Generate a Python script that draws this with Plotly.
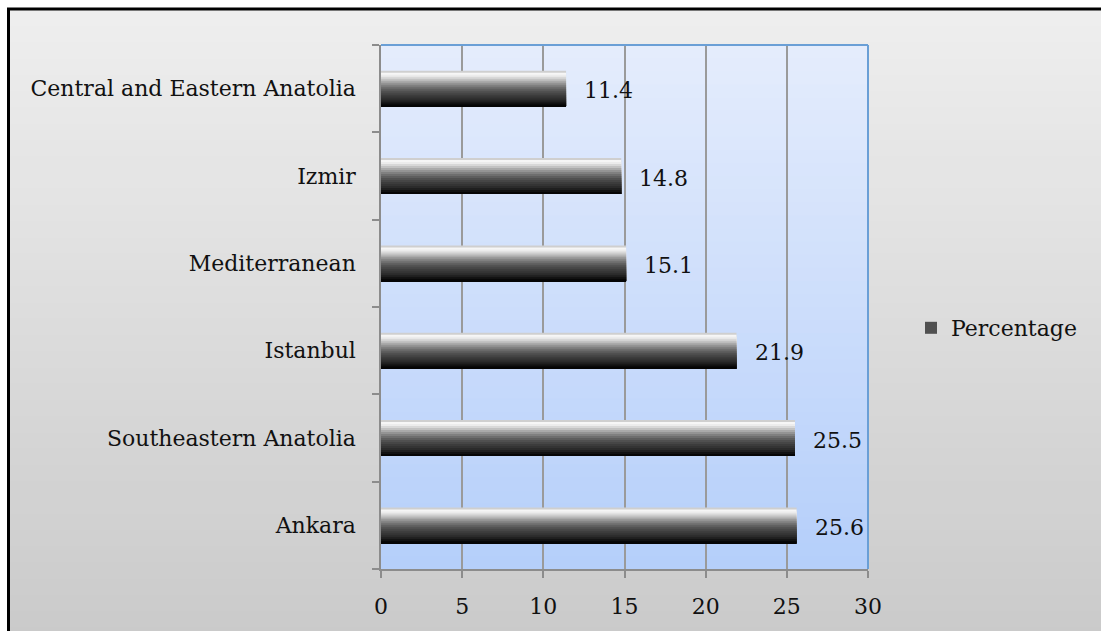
import plotly.graph_objects as go

# Regional shares (percent), listed bottom to top
regions = ["Ankara", "Southeastern Anatolia", "Istanbul", "Mediterranean",
           "Izmir", "Central and Eastern Anatolia"]
percentages = [25.6, 25.5, 21.9, 15.1, 14.8, 11.4]
series_name = "Percentage"
x_ticks = [0, 5, 10, 15, 20, 25, 30]

FONT = "DejaVu Serif"
FONT_SIZE = 22

# Shading of the cylinder-like bars, listed from top edge to bottom edge
BAR_SHADES = ["#cfcfcf", "#f6f6f6", "#ececec", "#d8d8d8", "#c2c2c2", "#aaaaaa",
              "#949494", "#808080", "#6e6e6e", "#5e5e5e", "#505050", "#464646",
              "#3c3c3c", "#343434", "#2b2b2b", "#1f1f1f", "#111111", "#050505"]
BAR_WIDTH = 0.41

W, H = 1101, 631
ML, MR, MT, MB = 381, 233, 45, 62
PW, PH = W - ML - MR, H - MT - MB


def px_x(px):
    return (px - ML) / PW


def px_y(py):
    return (H - MB - py) / PH


def lerp_hex(c0, c1, t):
    a = [int(c0[i:i + 2], 16) for i in (1, 3, 5)]
    b = [int(c1[i:i + 2], 16) for i in (1, 3, 5)]
    return "#" + "".join(f"{round(a[k] + (b[k] - a[k]) * t):02x}" for k in range(3))


fig = go.Figure()

# Bars are built from stacked bands: each band reaches from its own top edge
# down to the bar's bottom edge, and the later (darker) bands cover the lower
# part, which leaves no seams between the shades.
n = len(BAR_SHADES)
strip = BAR_WIDTH / n
for i, shade in enumerate(BAR_SHADES):
    band = BAR_WIDTH - i * strip
    fig.add_trace(go.Bar(
        x=percentages, y=regions, orientation="h",
        width=band, offset=-BAR_WIDTH / 2,
        marker=dict(color=shade, line=dict(width=0)),
        name=series_name, showlegend=(shade == "#505050"),
        hoverinfo="x+y",
    ))

shapes = []

# Outer panel: soft vertical gray gradient inside a black frame
steps = 40
top_px, bot_px = 10, 660
for k in range(steps):
    y0 = top_px + (bot_px - top_px) * k / steps
    shapes.append(dict(
        type="rect", xref="paper", yref="paper", layer="below",
        x0=px_x(9), x1=px_x(1120), y0=px_y(bot_px), y1=px_y(y0),
        fillcolor=lerp_hex("#eeeeee", "#c9c9c9", k / (steps - 1)),
        line=dict(width=0),
    ))
shapes.append(dict(
    type="rect", xref="paper", yref="paper", layer="below",
    x0=px_x(8.5), x1=px_x(1130), y0=px_y(670), y1=px_y(9),
    fillcolor="rgba(0,0,0,0)", line=dict(color="#000000", width=3),
))

# Plot area: light blue vertical gradient
for k in range(steps):
    shapes.append(dict(
        type="rect", xref="x domain", yref="y domain", layer="below",
        x0=0, x1=1, y0=0, y1=1 - k / steps,
        fillcolor=lerp_hex("#e4ecfc", "#b5cffa", k / (steps - 1)),
        line=dict(width=0),
    ))

# Blue frame on the top and right edges of the plot area
shapes.append(dict(type="line", xref="x domain", yref="y domain", layer="above",
                   x0=0, x1=1, y0=1, y1=1, line=dict(color="#6a9fd6", width=2)))
shapes.append(dict(type="line", xref="x domain", yref="y domain", layer="above",
                   x0=1, x1=1, y0=0, y1=1, line=dict(color="#6a9fd6", width=2)))

# Value labels just past the end of each bar
annotations = [
    dict(x=v, y=r, xref="x", yref="y", text=f"{v:.1f}", showarrow=False,
         xanchor="left", yanchor="middle", xshift=16, yshift=-2,
         font=dict(family=FONT, size=FONT_SIZE, color="#111111"))
    for r, v in zip(regions, percentages)
]

fig.update_layout(
    width=W, height=H,
    margin=dict(l=ML, r=MR, t=MT, b=MB, pad=0),
    paper_bgcolor="#ffffff", plot_bgcolor="rgba(0,0,0,0)",
    barmode="overlay",
    font=dict(family=FONT, size=FONT_SIZE, color="#111111"),
    shapes=shapes, annotations=annotations,
    showlegend=True,
    legend=dict(x=px_x(911), y=px_y(328), xanchor="left", yanchor="middle",
                bgcolor="rgba(0,0,0,0)", borderwidth=0,
                font=dict(family=FONT, size=FONT_SIZE, color="#111111")),
    xaxis=dict(range=[0, 30], tickvals=x_ticks, ticktext=[str(t) for t in x_ticks],
               showgrid=True, gridcolor="#9a9a9a", gridwidth=1.5,
               zeroline=False, showline=True, linecolor="#8c8c8c", linewidth=1.5,
               ticks="outside", ticklen=7, tickcolor="#8c8c8c", tickwidth=1.5,
               ticklabelstandoff=10, fixedrange=True),
    yaxis=dict(type="category", categoryorder="array", categoryarray=regions,
               range=[-0.5, len(regions) - 0.5], tickson="boundaries",
               showgrid=False, zeroline=False, showline=True,
               linecolor="#8c8c8c", linewidth=1.5,
               ticks="outside", ticklen=7, tickcolor="#8c8c8c", tickwidth=1.5,
               ticklabelstandoff=19, fixedrange=True),
)

fig.write_html("out.html")
